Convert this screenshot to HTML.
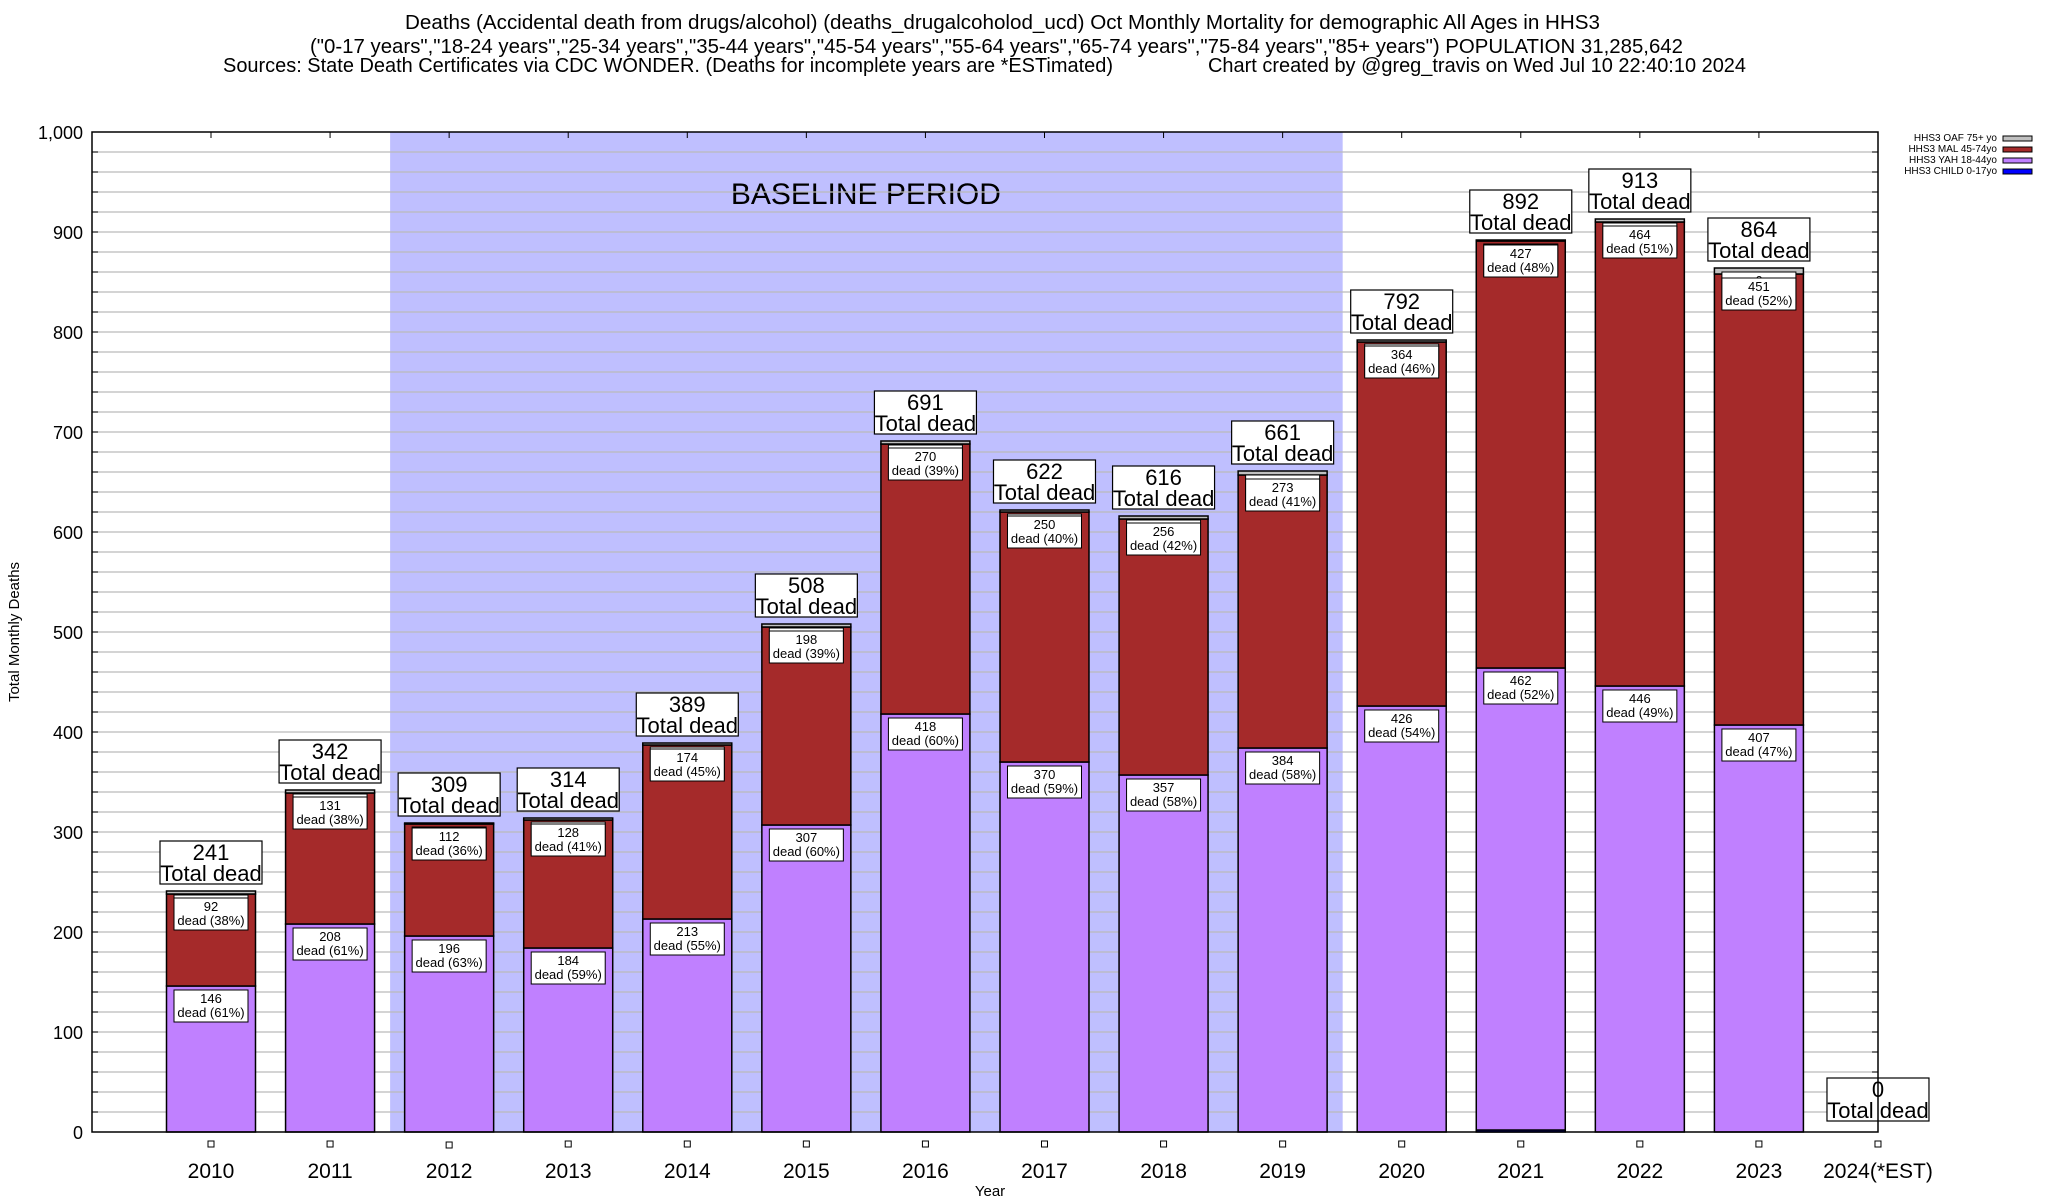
<!DOCTYPE html>
<html><head><meta charset="utf-8">
<style>
body{margin:0;background:#fff;}
svg{display:block;font-family:"Liberation Sans",Arial,sans-serif;}
</style></head>
<body>
<svg id="chart" width="2048" height="1200" viewBox="0 0 2048 1200" xmlns="http://www.w3.org/2000/svg">
<rect width="2048" height="1200" fill="#fff"/>
<g font-size="20" fill="#000">
<text x="405" y="29" textLength="1195" lengthAdjust="spacingAndGlyphs">Deaths (Accidental death from drugs/alcohol) (deaths_drugalcoholod_ucd) Oct Monthly Mortality for demographic All Ages in HHS3</text>
<text x="310" y="53" textLength="1373" lengthAdjust="spacingAndGlyphs">("0-17 years","18-24 years","25-34 years","35-44 years","45-54 years","55-64 years","65-74 years","75-84 years","85+ years") POPULATION 31,285,642</text>
<text x="223" y="72" textLength="890" lengthAdjust="spacingAndGlyphs">Sources: State Death Certificates via CDC WONDER. (Deaths for incomplete years are *ESTimated)</text>
<text x="1208" y="72" textLength="538" lengthAdjust="spacingAndGlyphs">Chart created by @greg_travis on Wed Jul 10 22:40:10 2024</text>
</g>
<g id="plot"></g>
<text transform="translate(19,632) rotate(-90)" text-anchor="middle" font-size="15">Total Monthly Deaths</text>
<text x="990" y="1196" text-anchor="middle" font-size="15">Year</text>
<g font-size="10" text-anchor="end">
<g><text x="1997" y="141">HHS3 OAF 75+ yo</text><rect x="2003" y="136" width="29" height="5" fill="#c0c0c0" stroke="#000"/></g>
<g><text x="1997" y="152">HHS3 MAL 45-74yo</text><rect x="2003" y="147" width="29" height="5" fill="#a52a2a" stroke="#000"/></g>
<g><text x="1997" y="163">HHS3 YAH 18-44yo</text><rect x="2003" y="158" width="29" height="5" fill="#c080ff" stroke="#000"/></g>
<g><text x="1997" y="174">HHS3 CHILD 0-17yo</text><rect x="2003" y="169" width="29" height="5" fill="#0000ff" stroke="#000"/></g>
</g>
</svg>
<script>
const years = ["2010","2011","2012","2013","2014","2015","2016","2017","2018","2019","2020","2021","2022","2023","2024(*EST)"];
const totals = [241,342,309,314,389,508,691,622,616,661,792,892,913,864,0];
const yahVals = [146,208,196,184,213,307,418,370,357,384,426,462,446,407,0];
const malVals = [92,131,112,128,174,198,270,250,256,273,364,427,464,451,0];
const childVals = [0,0,0,0,0,0,0,0,0,0,0,2,0,0,0];
const oafVals = [3,3,1,2,2,3,3,2,3,4,2,1,3,6,0];
const yTicks = [0,100,200,300,400,500,600,700,800,900,1000];
const yTickLabels = ["0","100","200","300","400","500","600","700","800","900","1,000"];
const baselineStart = 2011.5, baselineEnd = 2019.5;

const NS = "http://www.w3.org/2000/svg";
const L=92,R=1878,T=132,B=1132;
const x = i => 211 + i*119.07;
const xYear = yv => x(yv-2010);
const y = v => B - (v/1000)*(B-T);
const plot = document.getElementById('plot');
function mk(tag, attrs, parent){const e=document.createElementNS(NS,tag);for(const k in attrs)e.setAttribute(k,attrs[k]);(parent||plot).appendChild(e);return e;}

const sh = mk('rect',{x:xYear(baselineStart)+0.5,y:T,width:xYear(baselineEnd)-xYear(baselineStart),height:B-T,fill:'#bfbfff'});


const st = mk('text',{x:(xYear(baselineStart)+xYear(baselineEnd))/2,y:204,'text-anchor':'middle','font-size':30});
st.textContent='BASELINE PERIOD';



for(let v=20;v<1000;v+=20){
  const g=mk('line',{x1:L,x2:R,y1:y(v),y2:y(v),stroke:'#bbb','stroke-width':1.2});
  
  
  mk('line',{x1:L,x2:L+6,y1:y(v),y2:y(v),stroke:'#000','stroke-width':1});
  mk('line',{x1:R-6,x2:R,y1:y(v),y2:y(v),stroke:'#000','stroke-width':1});
}
yTicks.forEach((v,i)=>{
  const t=mk('text',{x:83,y:y(v)+7,'text-anchor':'end','font-size':18});
  t.textContent=yTickLabels[i];
  
  
});

const BW=89;
function smallLabel(cx, top, val, total){
  const g=mk('g',{});
  
  
  mk('rect',{x:cx-37,y:top+4,width:74,height:32,fill:'#fff',stroke:'#000','stroke-width':1},g);
  const t1=mk('text',{x:cx,y:top+17,'text-anchor':'middle','font-size':13},g);t1.textContent=val;
  const t2=mk('text',{x:cx,y:top+31,'text-anchor':'middle','font-size':13},g);
  t2.textContent='dead ('+Math.round(val/total*100)+'%)';
}
years.forEach((yr,i)=>{
  const cx=x(i);
  mk('line',{x1:cx,x2:cx,y1:T,y2:T+6,stroke:'#000'});
  const g=mk('g',{});
  
  
  const segs=[[childVals[i],'#0000ff'],[yahVals[i],'#c080ff'],[malVals[i],'#a52a2a'],[oafVals[i],'#c0c0c0']];
  let acc=0;
  const tops=[];
  segs.forEach(([v,c])=>{
    if(v>0){mk('rect',{x:cx-BW/2,y:y(acc+v),width:BW,height:y(acc)-y(acc+v),fill:c,stroke:'#000','stroke-width':1.5},g);}
    acc+=v;tops.push(y(acc));
  });
  if(totals[i]>0){
    smallLabel(cx,tops[3],oafVals[i],totals[i]);
    smallLabel(cx,tops[1],yahVals[i],totals[i]);
    smallLabel(cx,tops[2],malVals[i],totals[i]);
  }
  const tg=mk('g',{});
  
  
  const bot=y(totals[i])-7-(totals[i]===0?4:0);
  mk('rect',{x:cx-51,y:bot-43,width:102,height:43,fill:'#fff',stroke:'#000','stroke-width':1.2},tg);
  const a=mk('text',{x:cx,y:bot-24,'text-anchor':'middle','font-size':22},tg);a.textContent=totals[i];
  const b=mk('text',{x:cx,y:bot-3,'text-anchor':'middle','font-size':22},tg);b.textContent='Total dead';
  mk('rect',{x:cx-3,y:1141+(i===2?1:0),width:6,height:6,fill:'#fff',stroke:'#000','stroke-width':1});
  const xl=mk('text',{x:cx,y:1178,'text-anchor':'middle','font-size':21});
  xl.textContent=yr;
  
  
});
const fr=mk('rect',{x:L,y:T,width:R-L,height:B-T,fill:'none',stroke:'#000','stroke-width':1.5});


</script>
</body></html>
